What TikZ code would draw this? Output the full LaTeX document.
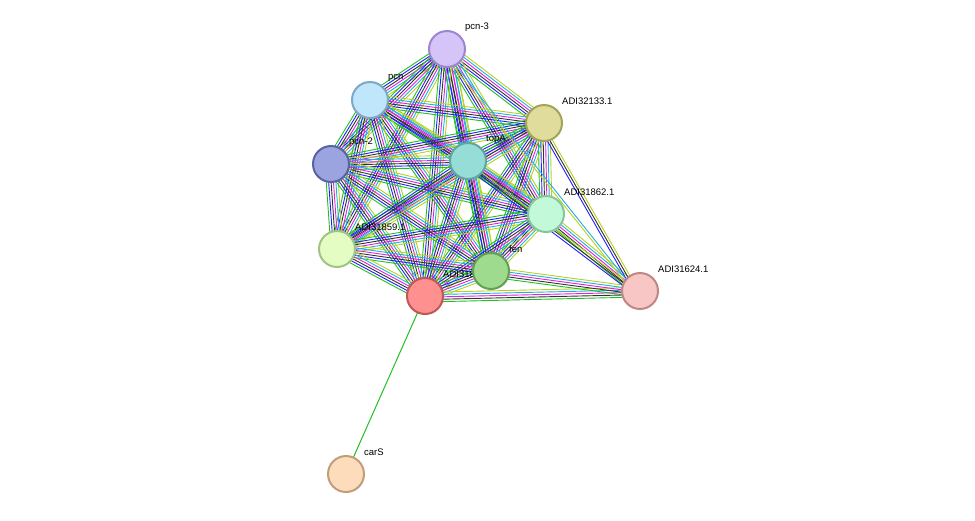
\documentclass[tikz,border=0pt]{standalone}
\usepackage{fontspec}
\setmainfont{Liberation Sans}
\usetikzlibrary{calc}
\definecolor{eg}{HTML}{20C020}\definecolor{eb}{HTML}{2020FF}\definecolor{ek}{HTML}{333333}
\definecolor{em}{HTML}{E020E0}\definecolor{ec}{HTML}{20B0E0}\definecolor{ey}{HTML}{B8D020}
\newcommand\sedge[3]{\foreach \c [count=\i] in {#3}{\draw[\c,line width=0.9pt] ($(#1)!{(\i-3.5)*2.4pt}!90:(#2)$) -- ($(#2)!{(\i-3.5)*2.4pt}!-90:(#1)$);}}
\newcommand\pnode[6]{\definecolor{f#1}{HTML}{#4}\definecolor{d#1}{HTML}{#5}\node[pn,fill=f#1,draw=d#1] (#1) at (#2,#3) {};\node[lab] at ($(#1)+(18,-22)$) {#6};}
\begin{document}
\begin{tikzpicture}[x=1pt,y=-1pt,
 pn/.style={circle,minimum size=36pt,inner sep=0pt,line width=2pt},
 lab/.style={anchor=west,font=\fontsize{9.5}{11}\selectfont,text=black,inner sep=0pt}]
\useasboundingbox (0,0) rectangle (975,520);
\coordinate (n3) at (447,49);\coordinate (pc) at (370,100);\coordinate (a33) at (544,123);
\coordinate (p2) at (331,164);\coordinate (tp) at (468,161);\coordinate (a62) at (546,214);
\coordinate (a59) at (337,249);\coordinate (fe) at (491,271);\coordinate (rd) at (425,296);
\coordinate (a24) at (640,291);\coordinate (cs) at (346,474);
\foreach \a/\b in {n3/pc,n3/a33,n3/p2,n3/tp,n3/a62,n3/a59,n3/fe,n3/rd,pc/a33,pc/p2,pc/tp,pc/a62,pc/a59,pc/fe,pc/rd,a33/p2,a33/tp,a33/a62,a33/a59,a33/fe,a33/rd,p2/tp,p2/a62,p2/a59,p2/fe,p2/rd,tp/a62,tp/a59,tp/fe,tp/rd,a62/a59,a62/fe,a62/rd,a59/fe,a59/rd,fe/rd}
 {\sedge{\a}{\b}{eg,eb,ek,em,ec,ey}}
\foreach \a in {rd,fe,a62}{\sedge{\a}{a24}{eg,ek,em,ec,ey}}
\foreach \a in {tp,a33}{\sedge{\a}{a24}{eb,ek,ey}}
\sedge{n3}{a24}{ey,ec}
\draw[eg,line width=1pt] (rd) -- (cs);
\pnode{N3}{447}{49}{D4C4F8}{9E86CF}{pcn-3}
\pnode{PC}{370}{100}{C0E6FB}{7FA8C4}{pcn}
\pnode{A33}{544}{123}{E0DC9B}{A5A25A}{ADI32133.1}
\pnode{P2}{331}{164}{9BA4DE}{5863A4}{pcn-2}
\pnode{TP}{468}{161}{96DDD8}{5FA7A2}{topA}
\pnode{A62}{546}{214}{C2F9D8}{85C59D}{ADI31862.1}
\pnode{A59}{337}{249}{E3FDC2}{A3C383}{ADI31859.1}
\pnode{RD}{425}{296}{FF9090}{C05757}{ADI31860.1}
\pnode{FE}{491}{271}{9FDB8E}{62A053}{fen}
\pnode{A24}{640}{291}{F8C6C4}{BE8886}{ADI31624.1}
\pnode{CS}{346}{474}{FDDCBC}{C09D7B}{carS}
\end{tikzpicture}
\end{document}
